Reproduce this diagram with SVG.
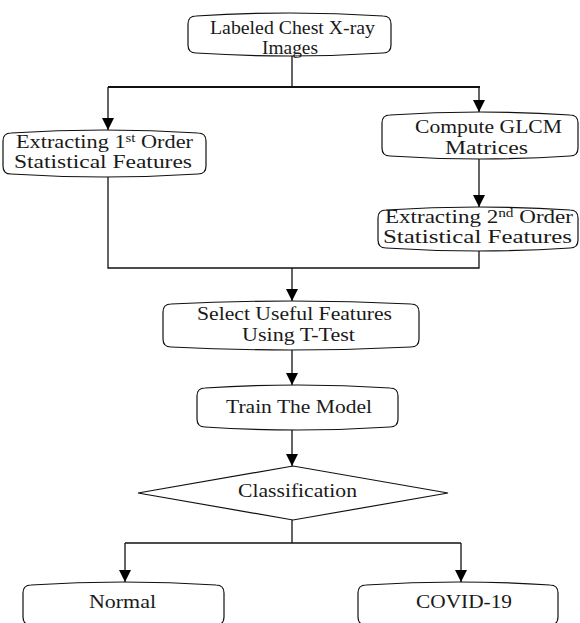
<svg xmlns="http://www.w3.org/2000/svg" width="580" height="623" viewBox="0 0 580 623">
<style>
.box{fill:#fff;stroke:#111;stroke-width:1.2}
.t{font-family:"Liberation Serif","Times New Roman",serif;font-size:18px;fill:#1a1a1a}
.sup{font-size:12px}
.c{fill:none;stroke:#111;stroke-width:1.3}
</style>
<defs>
<marker id="ah" viewBox="0 0 12 12" refX="12" refY="6" markerWidth="12" markerHeight="12" markerUnits="userSpaceOnUse" orient="auto">
<path d="M0,0 L12,6 L0,12 Z" fill="#000"/>
</marker>
</defs>
<rect width="580" height="623" fill="#fff"/>
<g id="connectors">
<path class="c" d="M292,56 V87"/>
<path class="c" d="M108,87 H480" stroke="#444" style="stroke-width:2"/>
<path class="c" d="M108,87 V130" marker-end="url(#ah)"/>
<path class="c" d="M479,87 V112" marker-end="url(#ah)"/>
<path class="c" d="M479,159 V207" marker-end="url(#ah)"/>
<path class="c" d="M108,177 V268 H479 V251"/>
<path class="c" d="M292,268 V301" marker-end="url(#ah)"/>
<path class="c" d="M292,350 V385" marker-end="url(#ah)"/>
<path class="c" d="M292,430 V466" marker-end="url(#ah)"/>
<path class="c" d="M292,520 V543"/>
<path class="c" d="M125,543 H461"/>
<path class="c" d="M125,543 V582" marker-end="url(#ah)"/>
<path class="c" d="M461,543 V582" marker-end="url(#ah)"/>
</g>
<g id="n_images">
<path class="box" d="M188,24 Q188,16 196,16 Q289.5,10 383,16 Q391,16 391,24 L391,45 Q391,53 383,53 Q289.5,59 196,53 Q188,53 188,45 Z"/>
<text class="t" x="210" y="34" textLength="165" lengthAdjust="spacingAndGlyphs">Labeled Chest X-ray</text>
<text class="t" x="262" y="54" textLength="56" lengthAdjust="spacingAndGlyphs">Images</text>
</g>
<g id="n_first">
<path class="box" d="M3,141 Q3,133 11,133 Q104.5,127 198,133 Q206,133 206,141 L206,166 Q206,174 198,174 Q104.5,180 11,174 Q3,174 3,166 Z"/>
<text class="t" x="16" y="148" textLength="177" lengthAdjust="spacingAndGlyphs">Extracting 1<tspan class="sup" dy="-6">st</tspan><tspan dy="6"> Order</tspan></text>
<text class="t" x="14" y="168" textLength="178" lengthAdjust="spacingAndGlyphs">Statistical Features</text>
</g>
<g id="n_glcm">
<path class="box" d="M382,123 Q382,115 390,115 Q480,109 570,115 Q578,115 578,123 L578,148 Q578,156 570,156 Q480,162 390,156 Q382,156 382,148 Z"/>
<text class="t" x="415" y="133" textLength="147" lengthAdjust="spacingAndGlyphs">Compute GLCM</text>
<text class="t" x="445" y="154" textLength="83" lengthAdjust="spacingAndGlyphs">Matrices</text>
</g>
<g id="n_second">
<path class="box" d="M378,218 Q378,210 386,210 Q478,204 570,210 Q578,210 578,218 L578,240 Q578,248 570,248 Q478,254 386,248 Q378,248 378,240 Z"/>
<text class="t" x="385" y="223" textLength="188" lengthAdjust="spacingAndGlyphs">Extracting 2<tspan class="sup" dy="-6">nd</tspan><tspan dy="6"> Order</tspan></text>
<text class="t" x="383" y="243" textLength="189" lengthAdjust="spacingAndGlyphs">Statistical Features</text>
</g>
<g id="n_select">
<path class="box" d="M163,312 Q163,304 171,304 Q291,298 411,304 Q419,304 419,312 L419,339 Q419,347 411,347 Q291,353 171,347 Q163,347 163,339 Z"/>
<text class="t" x="197" y="320" textLength="195" lengthAdjust="spacingAndGlyphs">Select Useful Features</text>
<text class="t" x="242" y="341" textLength="113" lengthAdjust="spacingAndGlyphs">Using T-Test</text>
</g>
<g id="n_train">
<path class="box" d="M197,396 Q197,388 205,388 Q297.5,382 390,388 Q398,388 398,396 L398,419 Q398,427 390,427 Q297.5,433 205,427 Q197,427 197,419 Z"/>
<text class="t" x="226" y="413" textLength="146" lengthAdjust="spacingAndGlyphs">Train The Model</text>
</g>
<g id="n_class">
<path class="box" d="M138,493 L293,466 L448,493 L293,520 Z"/>
<text class="t" x="238" y="497" textLength="119" lengthAdjust="spacingAndGlyphs">Classification</text>
</g>
<g id="n_normal">
<path class="box" d="M23,593 Q23,585 31,585 Q123.5,579 216,585 Q224,585 224,593 L224,617 Q224,625 216,625 Q123.5,631 31,625 Q23,625 23,617 Z"/>
<text class="t" x="89" y="608" textLength="67" lengthAdjust="spacingAndGlyphs">Normal</text>
</g>
<g id="n_covid">
<path class="box" d="M358,593 Q358,585 366,585 Q458,579 550,585 Q558,585 558,593 L558,617 Q558,625 550,625 Q458,631 366,625 Q358,625 358,617 Z"/>
<text class="t" x="416" y="608" textLength="96" lengthAdjust="spacingAndGlyphs">COVID-19</text>
</g>
</svg>
